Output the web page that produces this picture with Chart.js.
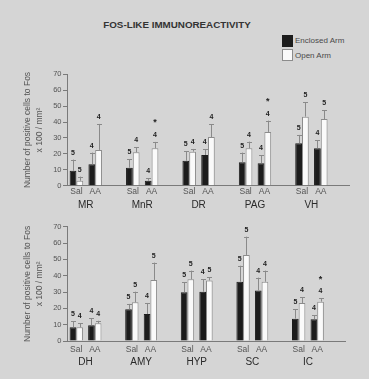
<!DOCTYPE html>
<html lang="en">
<head>
<meta charset="UTF-8">
<title>Fos-like immunoreactivity</title>
<script src="https://cdn.jsdelivr.net/npm/chart.js"></script>
<style>
  body { margin: 0; background: #d5d5d5; font-family: "Liberation Sans", Arial, sans-serif; }
  #pagina { position: relative; width: 369px; height: 379px; overflow: hidden; }
  #titulo { position: absolute; left: 0; width: 354px; top: 19px; line-height: 12px; text-align: center;
            font-weight: bold; font-size: 9.8px; color: #333; }
  .caja { position: absolute; left: 282px; width: 9px; height: 10px; }
  .texto { position: absolute; left: 295px; font-size: 8px; line-height: 10px; color: #4a4a4a; }
  canvas { position: absolute; left: 0; }
</style>
</head>
<body>
<div id="pagina">
  <div id="titulo">FOS-LIKE IMMUNOREACTIVITY</div>
  <div class="caja" style="top:35px; background:#1c1c1c; border:1px solid #1c1c1c;"></div>
  <div class="texto" style="top:36px;">Enclosed Arm</div>
  <div class="caja" style="top:49px; background:#fafafa; border:1px solid #8c8c8c;"></div>
  <div class="texto" style="top:51px;">Open Arm</div>
  <canvas id="graficaArriba" width="369" height="155" style="top:60px;"></canvas>
  <canvas id="graficaAbajo" width="369" height="164" style="top:215px;"></canvas>
</div>
<script>
// condiciones dentro de cada region
const condiciones = ['Sal', 'AA'];
const regionesArriba = ['MR', 'MnR', 'DR', 'PAG', 'VH'];
const regionesAbajo = ['DH', 'AMY', 'HYP', 'SC', 'IC'];
const ticksY = [0, 10, 20, 30, 40, 50, 60, 70];
const tituloY = ['Number of positive cells to Fos', 'x 100 / mm\u00b2'];

// valores por region: Sal, AA, Sal, AA ...
const cerradoArriba    = [9.4, 13.4, 11.3, 3.1, 15.7, 19.3, 14.7, 14.1, 26.7, 23.5];
const cerradoArribaErr = [7.0, 7.4, 5.3, 1.7, 6.1, 3.6, 6.1, 5.0, 5.2, 5.2];
const abiertoArriba    = [3.1, 22.5, 21.0, 23.5, 21.4, 30.6, 23.5, 33.8, 43.4, 41.9];
const abiertoArribaErr = [2.6, 16.3, 3.3, 4.0, 1.7, 8.0, 4.2, 7.1, 9.1, 5.5];
const cerradoArribaN   = [5, 4, 5, 4, 5, 4, 5, 4, 5, 4];
const abiertoArribaN   = [5, 4, 4, 4, 4, 4, 4, 4, 5, 5];
const abiertoArribaSig = [false, false, false, true, false, false, false, true, false, false];

const cerradoAbajo    = [8.4, 9.6, 19.4, 16.5, 29.8, 30.2, 36.3, 31.0, 13.7, 13.3];
const cerradoAbajoErr = [3.8, 4.3, 3.3, 6.8, 6.3, 7.6, 9.8, 7.8, 5.7, 2.6];
const abiertoAbajo    = [8.4, 10.8, 23.7, 37.4, 37.8, 37.1, 52.7, 36.3, 23.3, 24.1];
const abiertoAbajoErr = [2.4, 1.6, 6.5, 10.6, 5.3, 1.9, 11.2, 6.8, 3.6, 2.0];
const cerradoAbajoN   = [5, 4, 5, 4, 5, 4, 5, 4, 5, 4];
const abiertoAbajoN   = [4, 4, 5, 5, 5, 5, 5, 4, 4, 4];
const abiertoAbajoSig = [false, false, false, false, false, false, false, false, false, true];

const fuente = '"Liberation Sans", Arial, sans-serif';

// cada region ocupa 3 categorias: Sal, AA y un hueco
function enCategorias(valores) {
    const out = [];
    for (let g = 0; g < valores.length / 2; g++) {
        out.push(valores[2 * g], valores[2 * g + 1], null);
    }
    return out;
}

function etiquetas(regiones) {
    const out = [];
    regiones.forEach(() => out.push(condiciones[0], condiciones[1], ''));
    return out;
}

// barras de error (solo hacia arriba), n y asteriscos
const barrasError = {
    id: 'barrasError',
    afterDatasetsDraw(chart) {
        const ctx = chart.ctx;
        const escalaY = chart.scales.y;
        chart.data.datasets.forEach((ds, i) => {
            const meta = chart.getDatasetMeta(i);
            meta.data.forEach((barra, j) => {
                const v = ds.data[j];
                if (v === null || v === undefined) return;
                const yTope = escalaY.getPixelForValue(v + ds.errores[j]);
                const x = Math.round(barra.x) + 0.5;
                ctx.save();
                ctx.strokeStyle = '#8a8a8a';
                ctx.lineWidth = 1;
                ctx.beginPath();
                ctx.moveTo(x, barra.y);
                ctx.lineTo(x, yTope);
                ctx.moveTo(x - 2.5, Math.round(yTope) + 0.5);
                ctx.lineTo(x + 2.5, Math.round(yTope) + 0.5);
                ctx.stroke();
                ctx.fillStyle = '#222';
                ctx.textAlign = 'center';
                ctx.textBaseline = 'middle';
                ctx.font = 'bold 7px ' + fuente;
                ctx.fillText(String(ds.n[j]), barra.x, yTope - 7);
                if (ds.sig[j]) {
                    ctx.font = 'bold 9px ' + fuente;
                    ctx.fillText('*', barra.x, yTope - 19);
                }
                ctx.restore();
            });
        });
    }
};

function crearGrafica(id, regiones, datos, ajuste) {
    const ctx = document.getElementById(id).getContext('2d');
    return new Chart(ctx, {
        type: 'bar',
        data: {
            labels: etiquetas(regiones),
            datasets: [{
                label: 'Enclosed Arm',
                data: enCategorias(datos.cerrado),
                errores: enCategorias(datos.cerradoErr),
                n: enCategorias(datos.cerradoN),
                sig: enCategorias(regiones.flatMap(() => [false, false])),
                backgroundColor: '#1c1c1c',
                borderColor: '#1c1c1c',
                borderWidth: 1,
                categoryPercentage: 0.72,
                barPercentage: 1.0
            }, {
                label: 'Open Arm',
                data: enCategorias(datos.abierto),
                errores: enCategorias(datos.abiertoErr),
                n: enCategorias(datos.abiertoN),
                sig: enCategorias(datos.abiertoSig),
                backgroundColor: '#fafafa',
                borderColor: '#8c8c8c',
                borderWidth: 1,
                categoryPercentage: 0.72,
                barPercentage: 1.0
            }]
        },
        options: {
            responsive: false,
            animation: false,
            devicePixelRatio: 1,
            layout: { padding: { top: ajuste.arriba, right: ajuste.derecha, bottom: ajuste.abajo, left: 0 } },
            plugins: { legend: { display: false }, tooltip: { enabled: false } },
            scales: {
                x: {
                    weight: 0,
                    grid: { display: false, drawTicks: false },
                    border: { display: true, color: '#7a7a7a' },
                    ticks: {
                        autoSkip: false, maxRotation: 0, padding: ajuste.padSal,
                        color: '#555', font: { family: fuente, size: 8.5 }
                    },
                    afterFit: s => { s.height = ajuste.altoX; }
                },
                x2: {
                    type: 'linear',
                    position: 'bottom',
                    weight: 1,
                    offset: false,
                    bounds: 'data',
                    min: -0.5,
                    max: 14.5,
                    grid: { display: false, drawTicks: false, offset: false },
                    border: { display: false },
                    afterBuildTicks: s => { s.ticks = regiones.map((r, g) => ({ value: 3 * g + 0.5 })); },
                    ticks: {
                        autoSkip: false, maxRotation: 0, padding: ajuste.padRegion,
                        color: '#2a2a2a', font: { family: fuente, size: 10 },
                        callback: (v, i) => regiones[i]
                    },
                    afterFit: s => { s.height = 14; }
                },
                y: {
                    min: 0,
                    max: 70,
                    afterBuildTicks: s => { s.ticks = ticksY.map(v => ({ value: v })); },
                    grid: { drawOnChartArea: false, drawTicks: true, tickLength: 4, color: '#7a7a7a' },
                    border: { display: true, color: '#7a7a7a' },
                    ticks: { padding: 1.5, color: '#555', font: { family: fuente, size: 7.5 } },
                    title: {
                        display: true,
                        text: tituloY,
                        color: '#555',
                        font: { family: fuente, size: 8.5, lineHeight: 1.41 },
                        padding: { top: 22, bottom: 0 }
                    },
                    afterFit: s => { s.width = 67; }
                }
            }
        },
        plugins: [barrasError]
    });
}

crearGrafica('graficaArriba', regionesArriba, {
    cerrado: cerradoArriba, cerradoErr: cerradoArribaErr, cerradoN: cerradoArribaN,
    abierto: abiertoArriba, abiertoErr: abiertoArribaErr, abiertoN: abiertoArribaN, abiertoSig: abiertoArribaSig
}, { arriba: 14.3, derecha: 20, abajo: 3.3, altoX: 12, padSal: 1, padRegion: 1.3 });

crearGrafica('graficaAbajo', regionesAbajo, {
    cerrado: cerradoAbajo, cerradoErr: cerradoAbajoErr, cerradoN: cerradoAbajoN,
    abierto: abiertoAbajo, abiertoErr: abiertoAbajoErr, abiertoN: abiertoAbajoN, abiertoSig: abiertoAbajoSig
}, { arriba: 11.7, derecha: 24, abajo: 10, altoX: 14, padSal: 4, padRegion: 1.7 });
</script>
</body>
</html>
